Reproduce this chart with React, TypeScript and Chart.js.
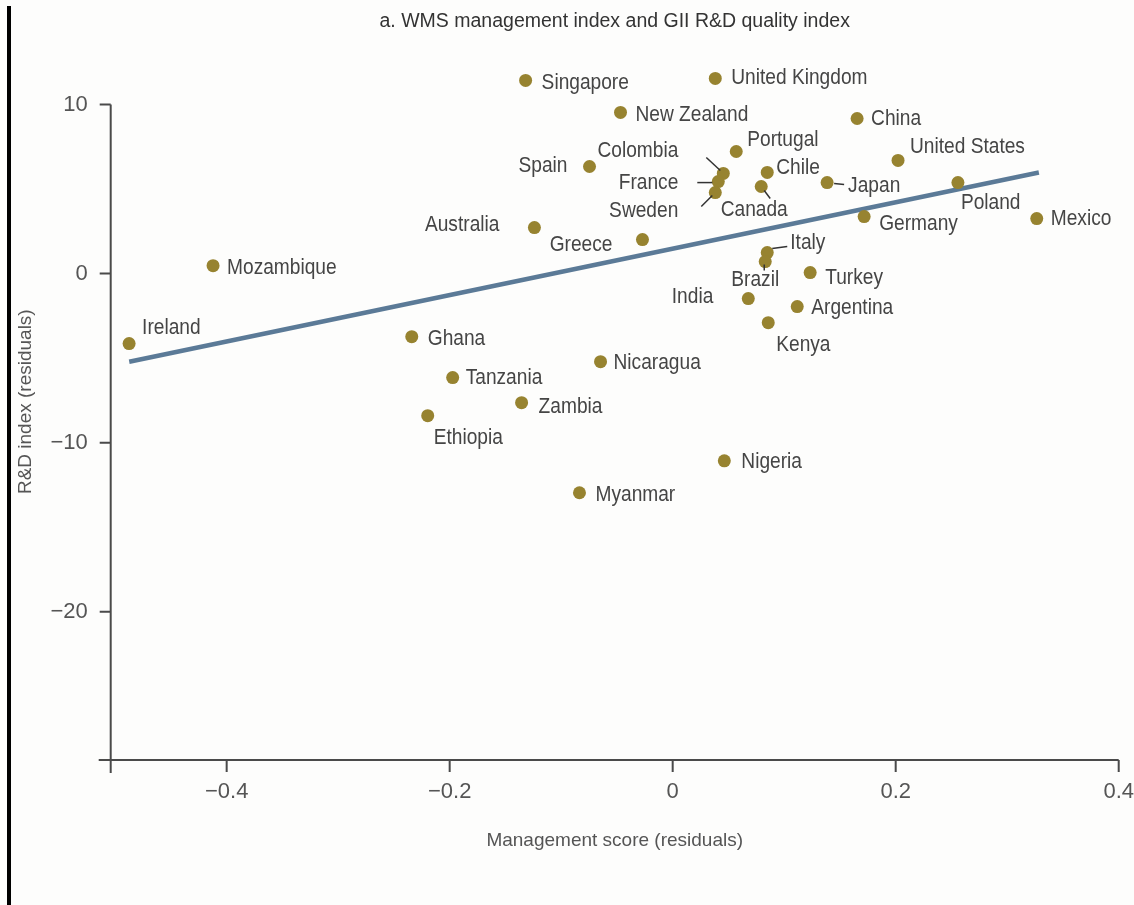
import React, { useEffect, useRef } from "react";
import { Chart, registerables } from "chart.js";

Chart.register(...registerables);

// ---------- data ----------
const countries = [
  "Ireland", "Mozambique", "Singapore", "United Kingdom", "New Zealand", "China",
  "Portugal", "Spain", "Colombia", "France", "Sweden", "Chile", "Canada", "Japan",
  "United States", "Poland", "Mexico", "Germany", "Italy", "Brazil", "Turkey",
  "India", "Argentina", "Kenya", "Greece", "Australia", "Ghana", "Tanzania",
  "Zambia", "Ethiopia", "Nicaragua", "Nigeria", "Myanmar",
];
const managementScore = [
  -0.4875, -0.4122, -0.1319, 0.0382, -0.0468, 0.1654,
  0.057, -0.0746, 0.0454, 0.0409, 0.0382, 0.0848, 0.0794, 0.1385,
  0.2021, 0.2558, 0.3265, 0.1717, 0.0848, 0.083, 0.1233,
  0.0678, 0.1117, 0.0857, -0.0271, -0.124, -0.234, -0.1973,
  -0.1355, -0.2197, -0.0647, 0.0463, -0.0836,
];
const rdIndex = [
  -4.14, 0.47, 11.42, 11.54, 9.53, 9.17,
  7.22, 6.33, 5.92, 5.44, 4.79, 5.98, 5.15, 5.38,
  6.69, 5.38, 3.25, 3.37, 1.24, 0.71, 0.06,
  -1.48, -1.95, -2.9, 2.01, 2.72, -3.73, -6.15,
  -7.63, -8.4, -5.21, -11.07, -12.96,
];
const fitLineX = [-0.4874, 0.3284];
const fitLineY = [-5.21, 5.98];
const xTickValues = [-0.4, -0.2, 0, 0.2, 0.4];
const yTickValues = [-20, -10, 0, 10];

const chartTitle = "a. WMS management index and GII R&D quality index";
const xTitle = "Management score (residuals)";
const yTitle = "R&D index (residuals)";

// ---------- label placement (pixel offsets from each marker) ----------
const labelPlacement: Record<string, [number, number, CanvasTextAlign]> = {
  Ireland: [13, -16, "left"],
  Mozambique: [14, 2, "left"],
  Singapore: [16, 2, "left"],
  "United Kingdom": [16, 0, "left"],
  "New Zealand": [15, 3, "left"],
  China: [14, 0, "left"],
  Portugal: [11, -12, "left"],
  Spain: [-22, -1, "right"],
  Colombia: [-45, -23, "right"],
  France: [-40, 1, "right"],
  Sweden: [-37, 18, "right"],
  Chile: [9, -5, "left"],
  Canada: [-7, 23, "center"],
  Japan: [21, 3, "left"],
  "United States": [12, -13, "left"],
  Poland: [3, 20, "left"],
  Mexico: [14, 0, "left"],
  Germany: [15, 7, "left"],
  Italy: [23, -10, "left"],
  Brazil: [-10, 18, "center"],
  Turkey: [15, 5, "left"],
  India: [-35, -2, "right"],
  Argentina: [14, 1, "left"],
  Kenya: [8, 22, "left"],
  Greece: [-30, 5, "right"],
  Australia: [-35, -3, "right"],
  Ghana: [16, 2, "left"],
  Tanzania: [13, 0, "left"],
  Zambia: [17, 4, "left"],
  Ethiopia: [6, 22, "left"],
  Nicaragua: [13, 1, "left"],
  Nigeria: [17, 1, "left"],
  Myanmar: [16, 2, "left"],
};
const leaderLines: Record<string, [number, number, number, number]> = {
  Colombia: [-17, -16, -3, -3],
  France: [-21, 1, -6, 1],
  Sweden: [-14, 14, -3, 3],
  Canada: [3, 4, 9, 12],
  Japan: [7, 1, 17, 2],
  Italy: [5, -4, 20, -6],
  Brazil: [-1, 3, -1, 9],
};

// ---------- styles ----------
const FONT = "'Liberation Sans', Arial, sans-serif";
const LABEL_SQUEEZE = 0.87;
const POINT_COLOR = "#978330";
const LINE_COLOR = "#5b7a97";
const AXIS_COLOR = "#4a4a4a";
const TEXT_COLOR = "#454545";
const TICK_COLOR = "#555555";

const fmt = (v: number) => (v < 0 ? "\u2212" + String(Math.abs(v)) : String(v));

const axesPlugin = {
  id: "customAxes",
  beforeDatasetsDraw(chart: any) {
    const { ctx, chartArea, scales } = chart;
    const x = scales.x;
    const y = scales.y;
    const bottom = chartArea.bottom;
    const left = chartArea.left;
    ctx.save();
    ctx.strokeStyle = AXIS_COLOR;
    ctx.lineWidth = 2;
    ctx.beginPath();
    const xEnd = x.getPixelForValue(xTickValues[xTickValues.length - 1]);
    ctx.moveTo(left - 12, bottom);
    ctx.lineTo(xEnd, bottom);
    xTickValues.forEach((v) => {
      const px = x.getPixelForValue(v);
      ctx.moveTo(px, bottom);
      ctx.lineTo(px, bottom + 12);
    });
    const yTop = y.getPixelForValue(Math.max(...yTickValues));
    ctx.moveTo(left, yTop);
    ctx.lineTo(left, bottom + 13);
    yTickValues.forEach((v) => {
      const py = y.getPixelForValue(v);
      ctx.moveTo(left - 11, py);
      ctx.lineTo(left, py);
    });
    ctx.stroke();
    ctx.restore();
  },
};

const labelsPlugin = {
  id: "pointLabels",
  afterDatasetsDraw(chart: any) {
    const { ctx } = chart;
    const meta = chart.getDatasetMeta(0);
    ctx.save();
    ctx.strokeStyle = "#333333";
    ctx.lineWidth = 1.5;
    meta.data.forEach((el: any, i: number) => {
      const ld = leaderLines[countries[i]];
      if (ld) {
        ctx.beginPath();
        ctx.moveTo(el.x + ld[0], el.y + ld[1]);
        ctx.lineTo(el.x + ld[2], el.y + ld[3]);
        ctx.stroke();
      }
    });
    ctx.font = `22px ${FONT}`;
    ctx.fillStyle = TEXT_COLOR;
    ctx.textBaseline = "middle";
    meta.data.forEach((el: any, i: number) => {
      const name = countries[i];
      const p = labelPlacement[name] || [12, 0, "left"];
      ctx.save();
      ctx.translate(el.x + p[0], el.y + p[1]);
      ctx.scale(LABEL_SQUEEZE, 1);
      ctx.textAlign = p[2];
      ctx.fillText(name, 0, 0);
      ctx.restore();
    });
    ctx.restore();
  },
};

export default function App() {
  const ref = useRef<HTMLCanvasElement | null>(null);

  useEffect(() => {
    if (!ref.current) return;
    const chart = new Chart(ref.current, {
      type: "scatter",
      data: {
        datasets: [
          {
            type: "scatter",
            data: countries.map((_, i) => ({ x: managementScore[i], y: rdIndex[i] })),
            pointRadius: 6.5,
            pointHoverRadius: 6.5,
            backgroundColor: POINT_COLOR,
            borderWidth: 0,
            clip: false,
            order: 0,
          } as any,
          {
            type: "line",
            data: fitLineX.map((x, i) => ({ x, y: fitLineY[i] })),
            borderColor: LINE_COLOR,
            borderWidth: 4.5,
            pointRadius: 0,
            fill: false,
            clip: false,
            order: 1,
          } as any,
        ],
      },
      options: {
        responsive: false,
        animation: false,
        events: [],
        layout: { padding: { left: 0, right: 14, top: 0, bottom: 49 } },
        plugins: {
          legend: { display: false },
          tooltip: { enabled: false },
          title: {
            display: true,
            text: chartTitle,
            fullSize: false,
            color: "#333333",
            font: { family: FONT, size: 19.5, weight: "normal" },
            padding: { top: 10, bottom: 10 },
          },
        },
        scales: {
          x: {
            type: "linear",
            min: -0.504,
            max: 0.4,
            afterBuildTicks: (s: any) => {
              s.ticks = xTickValues.map((v) => ({ value: v }));
            },
            afterFit: (s: any) => {
              s.height = 96;
            },
            grid: { display: false, drawTicks: true, tickLength: 19 },
            border: { display: false },
            ticks: {
              padding: 0,
              color: TICK_COLOR,
              font: { family: FONT, size: 22 },
              maxRotation: 0,
              callback: (v: any) => fmt(Number(v)),
            },
            title: {
              display: true,
              text: xTitle,
              color: TICK_COLOR,
              font: { family: FONT, size: 19 },
              padding: { top: 0, bottom: 4 },
            },
          },
          y: {
            type: "linear",
            min: -28.76,
            max: 13.61,
            afterBuildTicks: (s: any) => {
              s.ticks = yTickValues.map((v) => ({ value: v }));
            },
            afterFit: (s: any) => {
              s.width = 110.7;
            },
            grid: { display: false, drawTicks: false },
            border: { display: false },
            ticks: {
              padding: 23,
              color: TICK_COLOR,
              font: { family: FONT, size: 22 },
              callback: (v: any) => fmt(Number(v)),
            },
            title: {
              display: true,
              text: yTitle,
              color: TICK_COLOR,
              font: { family: FONT, size: 19 },
              padding: { top: 14, bottom: 0 },
            },
          },
        },
      } as any,
      plugins: [axesPlugin, labelsPlugin],
    });
    return () => chart.destroy();
  }, []);

  return (
    <div style={{ position: "absolute", left: 0, top: 0, width: 1134, height: 905, background: "#fdfdfc" }}>
      <canvas ref={ref} width={1134} height={905} style={{ display: "block" }} />
      <div style={{ position: "absolute", left: 7, top: 6, width: 4, height: 899, background: "#000" }} />
    </div>
  );
}
